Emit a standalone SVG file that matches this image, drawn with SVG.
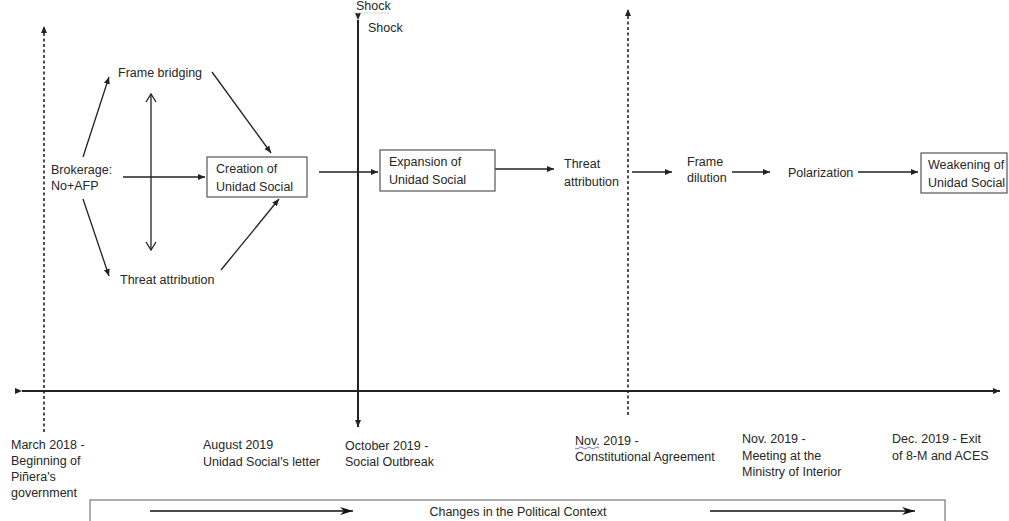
<svg xmlns="http://www.w3.org/2000/svg" width="1009" height="521" viewBox="0 0 1009 521">
<style>
text{font-family:"Liberation Sans",Arial,sans-serif;font-size:12.5px;fill:#262626}
.ln{stroke:#222;stroke-width:1.3;fill:none}
.ax{stroke:#222;stroke-width:2;fill:none}
.dash{stroke:#222;stroke-width:1.6;stroke-dasharray:3,2.5;fill:none}
.box{fill:#fff;stroke:#555;stroke-width:1.2}
</style>
<defs>
<marker id="ah" markerWidth="8" markerHeight="8" refX="7" refY="4" orient="auto" markerUnits="userSpaceOnUse">
<path d="M0,1 L7,4 L0,7 Z" fill="#222"/>
</marker>
<marker id="open" markerWidth="12" markerHeight="12" refX="10" refY="6" orient="auto-start-reverse" markerUnits="userSpaceOnUse">
<path d="M2,1 L10,6 L2,11" fill="none" stroke="#222" stroke-width="1.3"/>
</marker>
<marker id="barb" markerWidth="14" markerHeight="10" refX="13" refY="5" orient="auto" markerUnits="userSpaceOnUse">
<path d="M0,1 L13,5 L0,9 L4,5 Z" fill="#111"/>
</marker>
</defs>
<rect width="1009" height="521" fill="#fff"/>

<g id="timeline">
<line class="ax" x1="22" y1="391" x2="1000" y2="391" marker-start="url(#ah)" marker-end="url(#ah)"/>
<line class="dash" x1="44" y1="432" x2="44" y2="26" marker-end="url(#ah)"/>
<line class="ax" x1="358" y1="20" x2="358" y2="427" marker-start="url(#ah)" marker-end="url(#ah)"/>
<line class="dash" x1="628" y1="415" x2="628" y2="9" marker-end="url(#ah)"/>
</g>

<g id="connectors">
<line class="ln" x1="83" y1="157" x2="109" y2="77" marker-end="url(#ah)"/>
<line class="ln" x1="212" y1="72" x2="271" y2="153" marker-end="url(#ah)"/>
<line class="ln" x1="123" y1="177" x2="205" y2="177" marker-end="url(#ah)"/>
<line class="ln" x1="151" y1="94" x2="151" y2="250" marker-start="url(#open)" marker-end="url(#open)"/>
<line class="ln" x1="83" y1="199" x2="109" y2="276" marker-end="url(#ah)"/>
<line class="ln" x1="221" y1="270" x2="279" y2="199" marker-end="url(#ah)"/>
<line class="ln" x1="319" y1="172" x2="378" y2="172" marker-end="url(#ah)"/>
<line class="ln" x1="495" y1="169" x2="554" y2="169" marker-end="url(#ah)"/>
<line class="ln" x1="632" y1="172" x2="672" y2="172" marker-end="url(#ah)"/>
<line class="ln" x1="732" y1="172" x2="770" y2="172" marker-end="url(#ah)"/>
<line class="ln" x1="858" y1="172" x2="918" y2="172" marker-end="url(#ah)"/>
</g>

<g id="shock">
<text x="356" y="10" font-size="8" fill="#999">Shock</text>
<line x1="354" y1="13" x2="390" y2="13" stroke="#ccc" stroke-width="1" stroke-dasharray="2,1"/>
<text x="368" y="32">Shock</text>
</g>

<g id="frame-bridging"><text x="118" y="77">Frame bridging</text></g>
<g id="brokerage"><text x="51" y="174">Brokerage:</text><text x="51" y="190">No+AFP</text></g>
<g id="threat-attribution-1"><text x="120" y="284">Threat attribution</text></g>
<g id="creation"><rect class="box" x="207" y="157" width="100" height="40"/><text x="216" y="173">Creation of</text><text x="216" y="191">Unidad Social</text></g>
<g id="expansion"><rect class="box" x="380" y="150" width="115" height="41"/><text x="389" y="166">Expansion of</text><text x="389" y="184">Unidad Social</text></g>
<g id="threat-attribution-2"><text x="564" y="168">Threat</text><text x="564" y="186">attribution</text></g>
<g id="frame-dilution"><text x="687" y="166">Frame</text><text x="687" y="182">dilution</text></g>
<g id="polarization"><text x="788" y="177">Polarization</text></g>
<g id="weakening"><rect class="box" x="921" y="153" width="86" height="40"/><text x="928" y="169" font-size="12">Weakening of</text><text x="928" y="187" font-size="12">Unidad Social</text></g>

<g id="dates">
<text x="11" y="449">March 2018 -</text><text x="11" y="465">Beginning of</text><text x="11" y="481">Piñera's</text><text x="11" y="497">government</text>
<text x="203" y="449">August 2019</text><text x="203" y="466">Unidad Social's letter</text>
<text x="345" y="450">October 2019 -</text><text x="345" y="466">Social Outbreak</text>
<text x="575" y="445">Nov. 2019 -</text><text x="575" y="461">Constitutional Agreement</text>
<path d="M575,448 q2,2 4,0 t4,0 t4,0 t4,0 t4,0 t4,0" fill="none" stroke="#7a6fd6" stroke-width="1"/>
<text x="742" y="443">Nov. 2019 -</text><text x="742" y="460">Meeting at the</text><text x="742" y="476">Ministry of Interior</text>
<text x="892" y="443">Dec. 2019 - Exit</text><text x="892" y="460">of 8-M and ACES</text>
</g>

<g id="political-context">
<rect x="90" y="500" width="855" height="30" fill="#fff" stroke="#777" stroke-width="1.2"/>
<line x1="150" y1="511" x2="353" y2="511" stroke="#111" stroke-width="1.5" marker-end="url(#barb)"/>
<line x1="710" y1="511" x2="915" y2="511" stroke="#111" stroke-width="1.5" marker-end="url(#barb)"/>
<text x="518" y="516" text-anchor="middle">Changes in the Political Context</text>
</g>
</svg>
